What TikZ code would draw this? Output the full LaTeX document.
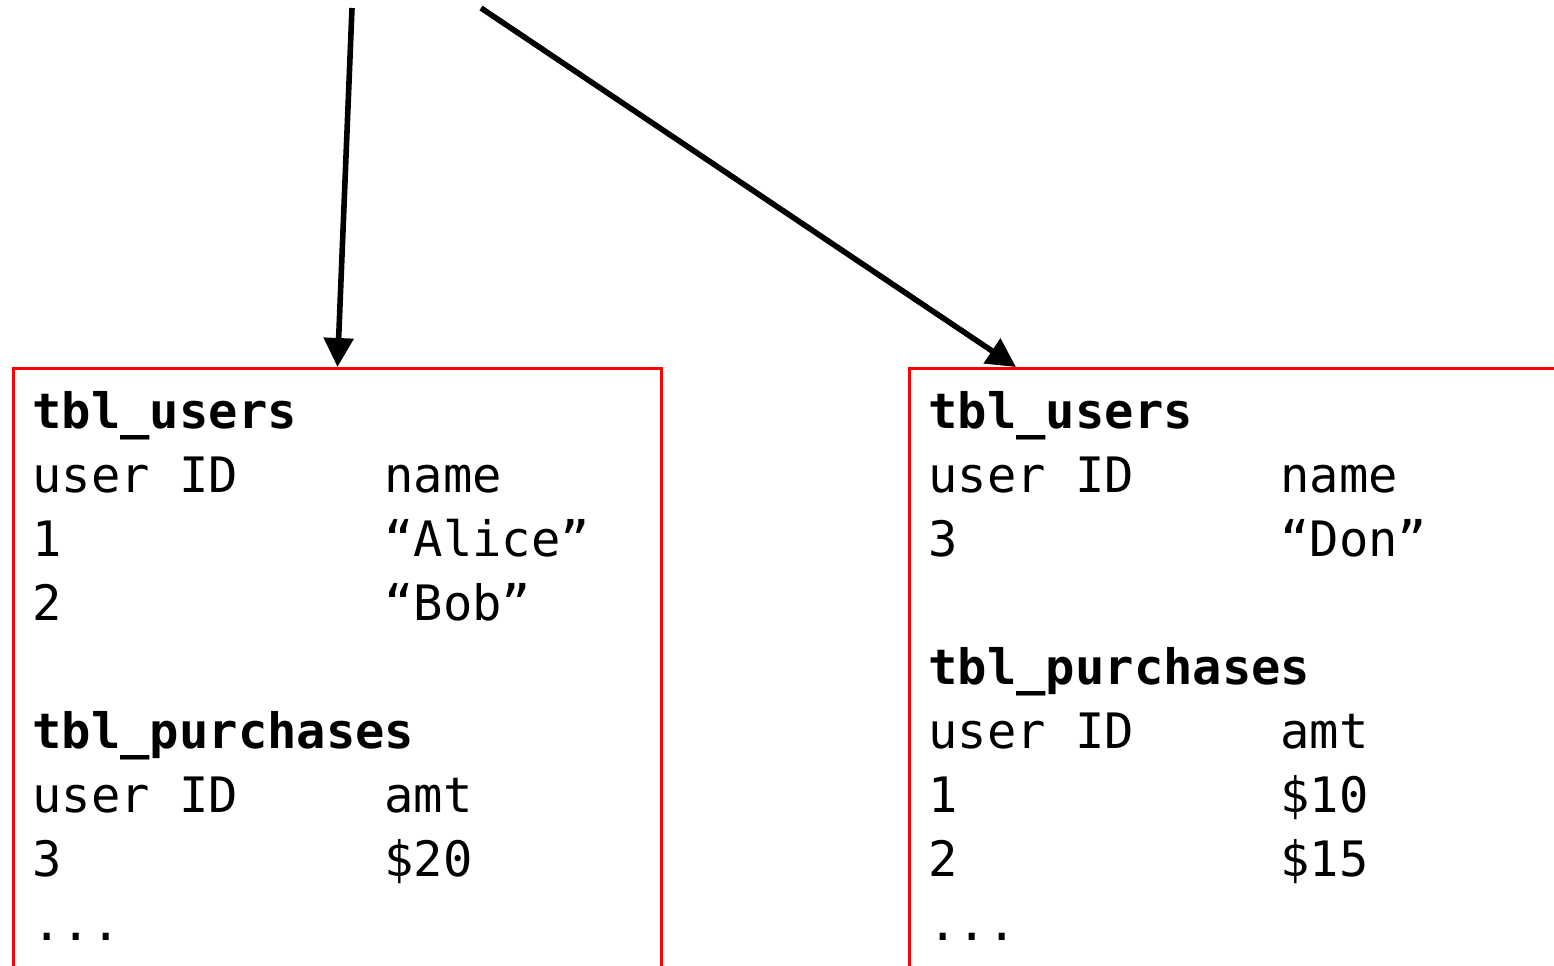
\documentclass[tikz,border=0pt]{standalone}
\usepackage{fontspec}
\setmonofont{DejaVu Sans Mono}
\usetikzlibrary{arrows.meta}
\newcommand\tabfont{\ttfamily\fontsize{24.4}{29}\selectfont}
\tikzset{
  txt/.style={anchor=base west, inner sep=0pt, font=\tabfont},
  hdr/.style={anchor=base west, inner sep=0pt, font=\tabfont\bfseries},
  tbl/.style={draw=red, line width=1.5pt, anchor=north west, inner sep=0pt, minimum height=320pt},
  arr/.style={line width=2.8pt, -{Triangle[length=14.5pt,width=14.5pt]}}
}
\begin{document}
\begin{tikzpicture}[x=0.5pt,y=-0.5pt]
\useasboundingbox (0,0) rectangle (1554,965);
\clip (0,0) rectangle (1554,965);
% boxes
\node[tbl, minimum width=324pt] (boxL) at (12,367) {};
\node[tbl, minimum width=400pt] (boxR) at (908,367) {};
% arrows
\coordinate (s1) at (352,8);
\coordinate (s2) at (481,8);
\coordinate (t2) at (1016,367);
\draw[arr] (s1) -- (boxL.north);
\draw[arr] (s2) -- (t2);
% left table
\node[hdr] (Lh1) at (32,428) {tbl\_users};
\node[txt] (Lc1) at (32,492) {user ID};
\node[txt] (Lc2) at (384,492) {name};
\node[txt] (Lr1a) at (32,556) {1};
\node[txt] (Lr1b) at (384,556) {“Alice”};
\node[txt] (Lr2a) at (32,620) {2};
\node[txt] (Lr2b) at (384,620) {“Bob”};
\node[hdr] (Lh2) at (32,748) {tbl\_purchases};
\node[txt] (Lp1) at (32,812) {user ID};
\node[txt] (Lp2) at (384,812) {amt};
\node[txt] (Lq1a) at (32,876) {3};
\node[txt] (Lq1b) at (384,876) {\$20};
\node[txt] (Ldots) at (32,940) {...};
% right table
\node[hdr] (Rh1) at (928,428) {tbl\_users};
\node[txt] (Rc1) at (928,492) {user ID};
\node[txt] (Rc2) at (1280,492) {name};
\node[txt] (Rr1a) at (928,556) {3};
\node[txt] (Rr1b) at (1280,556) {“Don”};
\node[hdr] (Rh2) at (928,684) {tbl\_purchases};
\node[txt] (Rp1) at (928,748) {user ID};
\node[txt] (Rp2) at (1280,748) {amt};
\node[txt] (Rq1a) at (928,812) {1};
\node[txt] (Rq1b) at (1280,812) {\$10};
\node[txt] (Rq2a) at (928,876) {2};
\node[txt] (Rq2b) at (1280,876) {\$15};
\node[txt] (Rdots) at (928,940) {...};
\end{tikzpicture}
\end{document}
